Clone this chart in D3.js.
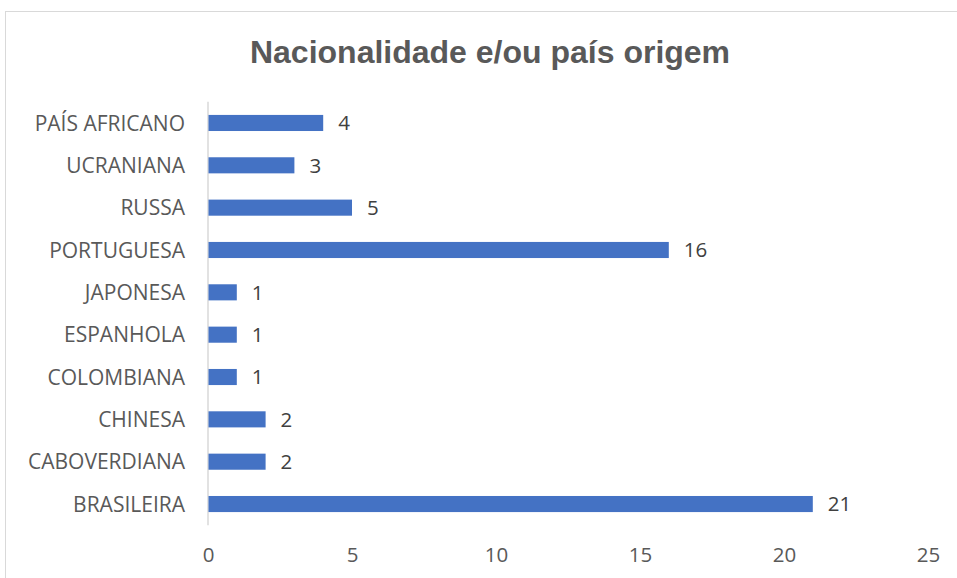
<!DOCTYPE html>
<html>
<head>
<meta charset="utf-8">
<script src="https://cdn.jsdelivr.net/npm/d3@7"></script>
<style>
  html, body { margin: 0; padding: 0; background: #ffffff; }
  svg { display: block; }
</style>
</head>
<body>
<svg id="chart" width="957" height="578"></svg>
<script>
// Categories listed bottom-to-top as they appear on the axis
const categories = ["BRASILEIRA", "CABOVERDIANA", "CHINESA", "COLOMBIANA", "ESPANHOLA",
                    "JAPONESA", "PORTUGUESA", "RUSSA", "UCRANIANA", "PAÍS AFRICANO"];
const values = [21, 2, 2, 1, 1, 1, 16, 5, 3, 4];
const xTicks = [0, 5, 10, 15, 20, 25];
const title = "Nacionalidade e/ou país origem";

const svg = d3.select("#chart");
const W = 957, H = 578;
const labelFont = "'Open Sans', sans-serif";

// Chart area frame
svg.append("rect")
  .attr("x", 5.5).attr("y", 11.5)
  .attr("width", W + 10).attr("height", H)
  .attr("fill", "#ffffff")
  .attr("stroke", "#d9d9d9").attr("stroke-width", 1);

// Title
svg.append("text")
  .attr("x", 490).attr("y", 63)
  .attr("text-anchor", "middle")
  .attr("font-family", "Liberation Sans, Arial, sans-serif")
  .attr("font-weight", "bold")
  .attr("font-size", 32)
  .attr("fill", "#595959")
  .text(title);

const x = d3.scaleLinear().domain([0, 25]).range([208, 928]);
const y = d3.scaleBand()
  .domain(categories.slice().reverse())
  .range([101.8, 525.2])
  .paddingInner(0.62).paddingOuter(0.31);

// Vertical category axis line
svg.append("line")
  .attr("x1", x(0)).attr("x2", x(0))
  .attr("y1", 101.8).attr("y2", 525.2)
  .attr("stroke", "#d9d9d9").attr("stroke-width", 1.5);

const data = categories.map((c, i) => ({ c, v: values[i] }));

// Bars
svg.append("g").selectAll("rect")
  .data(data)
  .join("rect")
  .attr("x", x(0) + 0.5)
  .attr("y", d => y(d.c))
  .attr("width", d => x(d.v) - x(0) - 0.5)
  .attr("height", y.bandwidth())
  .attr("fill", "#4472c4");

// Value labels
svg.append("g").selectAll("text")
  .data(data)
  .join("text")
  .attr("x", d => x(d.v) + 15)
  .attr("y", d => y(d.c) + y.bandwidth() / 2)
  .attr("dy", "0.36em")
  .attr("font-family", labelFont)
  .attr("font-size", 20.5)
  .attr("fill", "#404040")
  .text(d => d.v);

// Category labels
svg.append("g").selectAll("text")
  .data(data)
  .join("text")
  .attr("x", 185)
  .attr("y", d => y(d.c) + y.bandwidth() / 2)
  .attr("dy", "0.36em")
  .attr("text-anchor", "end")
  .attr("font-family", labelFont)
  .attr("font-size", 21)
  .attr("fill", "#595959")
  .text(d => d.c);

// Value axis tick labels (no axis line)
const xAxis = d3.axisBottom(x).tickValues(xTicks).tickSize(0).tickPadding(0);
const gx = svg.append("g")
  .attr("transform", "translate(0,547)")
  .call(xAxis);
gx.select(".domain").remove();
gx.selectAll("text")
  .attr("font-family", labelFont)
  .attr("font-size", 20.5)
  .attr("fill", "#595959");
</script>
</body>
</html>
